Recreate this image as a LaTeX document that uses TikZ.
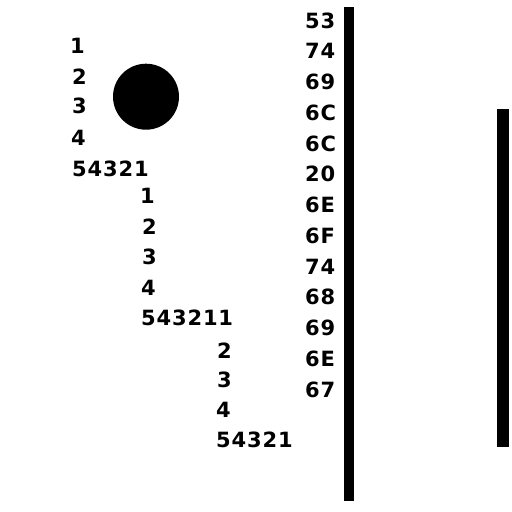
\documentclass[tikz,border=0pt]{standalone}
\usepackage{fontspec}
\setmainfont{DejaVu Sans}[LetterSpace=4]
\begin{document}
\begin{tikzpicture}[x=1pt,y=-1pt,
  lbl/.style={anchor=west,inner sep=0pt,font=\fontsize{21}{21}\selectfont\bfseries},
  barfill/.style={fill=black,draw=none}]
\useasboundingbox (0,0) rectangle (512,512);
% group 1
\node[lbl] (a1) at (70,45.5) {1};
\node[lbl] (a2) at (72,77) {2};
\node[lbl] (a3) at (72,106) {3};
\node[lbl] (a4) at (71,137.5) {4};
\node[lbl] (a5) at (72,169) {54321};
% group 2
\node[lbl] (b1) at (140,195.5) {1};
\node[lbl] (b2) at (142,227) {2};
\node[lbl] (b3) at (142,256.5) {3};
\node[lbl] (b4) at (141,287.5) {4};
\node[lbl] (b5) at (141,318) {543211};
% group 3
\node[lbl] (c2) at (217,350.5) {2};
\node[lbl] (c3) at (217,380) {3};
\node[lbl] (c4) at (216,410) {4};
\node[lbl] (c5) at (216,440) {54321};
% hex column
\foreach \t [count=\i from 0] in {53,74,69,6C,6C,20,6E,6F,74,68,69,6E,67} {
  \node[lbl] (h\i) at (305,20.5+30.75*\i) {\t};
}
% circle
\fill (146,96.7) circle (33);
% bars
\fill[barfill] (344.3,6.7) rectangle (354.3,500.7);
\fill[barfill] (496.7,108.7) rectangle (509.3,446.7);
\end{tikzpicture}
\end{document}
